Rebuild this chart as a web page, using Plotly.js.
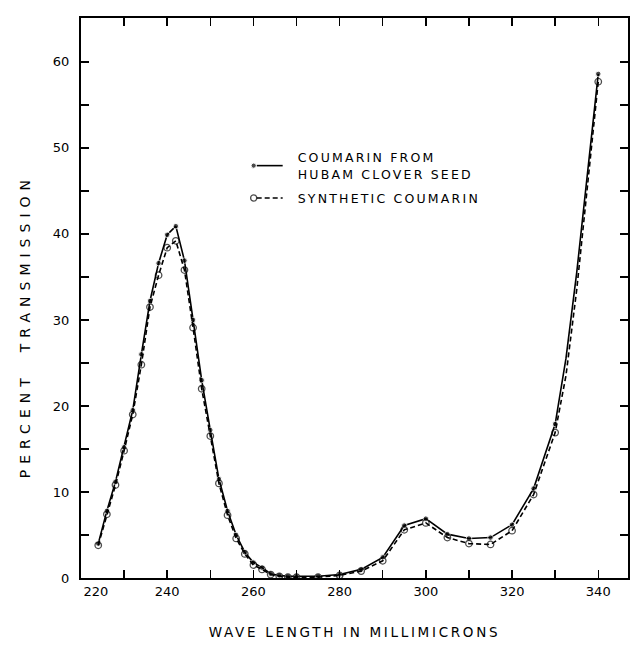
<!DOCTYPE html>
<html>
<head>
<meta charset="utf-8">
<script src="https://cdn.plot.ly/plotly-3.0.1.min.js"></script>
<style>html,body{margin:0;padding:0;background:#fff;}#chart{width:633px;height:649px;}</style>
</head>
<body>
<div id="chart"></div>
<script>
// Wavelength (millimicrons)
const wavelength = [224, 226, 228, 230, 232, 234, 236, 238, 240, 242, 244, 246, 248, 250, 252, 254, 256, 258, 260, 262, 264, 266, 268, 270, 275, 280, 285, 290, 295, 300, 305, 310, 315, 320, 325, 330, 332.5, 335, 340];
// Percent transmission, coumarin from Hubam clover seed (filled points, solid line)
const cloverSeed = [4.0, 7.8, 11.2, 15.2, 19.5, 26.0, 32.2, 36.6, 39.9, 40.9, 36.9, 30.0, 23.0, 17.2, 11.5, 7.8, 5.0, 3.0, 1.8, 1.2, 0.5, 0.3, 0.2, 0.2, 0.2, 0.4, 1.0, 2.4, 6.1, 6.9, 5.1, 4.6, 4.7, 6.2, 10.4, 17.9, 25.5, 35.5, 58.6];
// Percent transmission, synthetic coumarin (open points, dashed line)
const synthetic = [3.8, 7.4, 10.8, 14.8, 19.0, 24.8, 31.5, 35.2, 38.4, 39.2, 35.8, 29.1, 22.0, 16.5, 11.0, 7.3, 4.6, 2.8, 1.5, 1.0, 0.4, 0.2, 0.1, 0.1, 0.1, 0.3, 0.8, 2.0, 5.6, 6.4, 4.7, 4.0, 3.9, 5.5, 9.7, 16.9, 23.5, 33.5, 57.7];
// Wavelengths read as line-only (no plotted point)
const lineOnly = [332.5, 335];

const xTickVals = [220, 230, 240, 250, 260, 270, 280, 290, 300, 310, 320, 330, 340];
const xTickText = ['220', '', '240', '', '260', '', '280', '', '300', '', '320', '', '340'];
const yTickVals = [0, 5, 10, 15, 20, 25, 30, 35, 40, 45, 50, 55, 60];
const yTickText = ['0', '', '10', '', '20', '', '30', '', '40', '', '50', '', '60'];

const seriesNames = ['COUMARIN FROM<br>HUBAM CLOVER SEED', 'SYNTHETIC COUMARIN'];
const xTitle = 'WAVE LENGTH IN MILLIMICRONS';
const yTitle = 'PERCENT\u2003TRANSMISSION';

const sizesFilled = wavelength.map(w => lineOnly.includes(w) ? 0 : 5.5);
const sizesOpen = wavelength.map(w => lineOnly.includes(w) ? 0 : 6.5);

const font = 'DejaVu Sans, Verdana, sans-serif';

const traces = [
  {
    x: wavelength, y: cloverSeed, name: seriesNames[0], legendgroup: 'a',
    type: 'scatter', mode: 'lines+markers',
    line: {color: '#000', width: 1.6},
    marker: {symbol: 'circle', size: sizesFilled, color: '#000'}
  },
  {
    x: wavelength, y: synthetic, name: seriesNames[1], legendgroup: 'b',
    type: 'scatter', mode: 'lines+markers',
    line: {color: '#000', width: 1.6, dash: '5px,3px'},
    marker: {symbol: 'circle-open', size: sizesOpen, color: '#000', line: {width: 1.3, color: '#000'}}
  }
];

const layout = {
  width: 633, height: 649,
  margin: {l: 81, r: 5, t: 18, b: 71},
  paper_bgcolor: '#fff', plot_bgcolor: '#fff',
  font: {family: font, color: '#000', size: 12},
  showlegend: true,
  legend: {
    x: 0.323, y: 0.777, xanchor: 'left', yanchor: 'top',
    bgcolor: 'rgba(0,0,0,0)', borderwidth: 0,
    font: {family: font, size: 12.5, color: '#000'},
    itemwidth: 30, tracegroupgap: 5
  },
  xaxis: {
    range: [220, 346.9],
    tickmode: 'array', tickvals: xTickVals, ticktext: xTickText,
    ticks: 'inside', ticklen: 8, tickwidth: 1.5, tickcolor: '#000',
    showline: true, linecolor: '#000', linewidth: 2, mirror: 'ticks',
    showgrid: false, zeroline: false,
    tickfont: {family: font, size: 13, color: '#000'},
    title: {text: xTitle, font: {family: font, size: 13.5, color: '#000'}, standoff: 30}
  },
  yaxis: {
    range: [0, 65.1],
    tickmode: 'array', tickvals: yTickVals, ticktext: yTickText,
    ticks: 'inside', ticklen: 8, tickwidth: 1.5, tickcolor: '#000',
    showline: true, linecolor: '#000', linewidth: 2, mirror: 'ticks',
    showgrid: false, zeroline: false,
    tickfont: {family: font, size: 13, color: '#000'},
    ticklabelstandoff: 7
  },
  annotations: [{
    text: yTitle, xref: 'paper', yref: 'paper',
    x: -0.102, y: 0.45, xanchor: 'center', yanchor: 'middle',
    textangle: -90, showarrow: false,
    font: {family: font, size: 14, color: '#000'}
  }]
};

Plotly.newPlot('chart', traces, layout, {displayModeBar: false, staticPlot: true}).then(() => {
  const root = document.getElementById('chart');
  // hand-lettered look: spread the letters
  root.querySelectorAll('.xtitle').forEach(t => t.style.letterSpacing = '2.7px');
  root.querySelectorAll('.annotation-text').forEach(t => t.style.letterSpacing = '6px');
  root.querySelectorAll('.legendtext').forEach(t => t.style.letterSpacing = '2.2px');
  // the legend must not clip the widened text or the moved sample point
  root.querySelectorAll('.legend [clip-path], .legend[clip-path]').forEach(el => el.removeAttribute('clip-path'));
  // first x label sits right of the axis corner, as in the original
  const firstX = root.querySelector('.xtick text');
  if (firstX) firstX.setAttribute('x', String((parseFloat(firstX.getAttribute('x')) || 0) + 15));
  // legend samples: point at the left end, line to its right
  root.querySelectorAll('.legendpoints path.scatterpts').forEach(p => p.setAttribute('transform', 'translate(-4,0)'));
  root.querySelectorAll('.legendlines path').forEach(p => p.setAttribute('d', 'M-1,0h26'));
});
</script>
</body>
</html>
